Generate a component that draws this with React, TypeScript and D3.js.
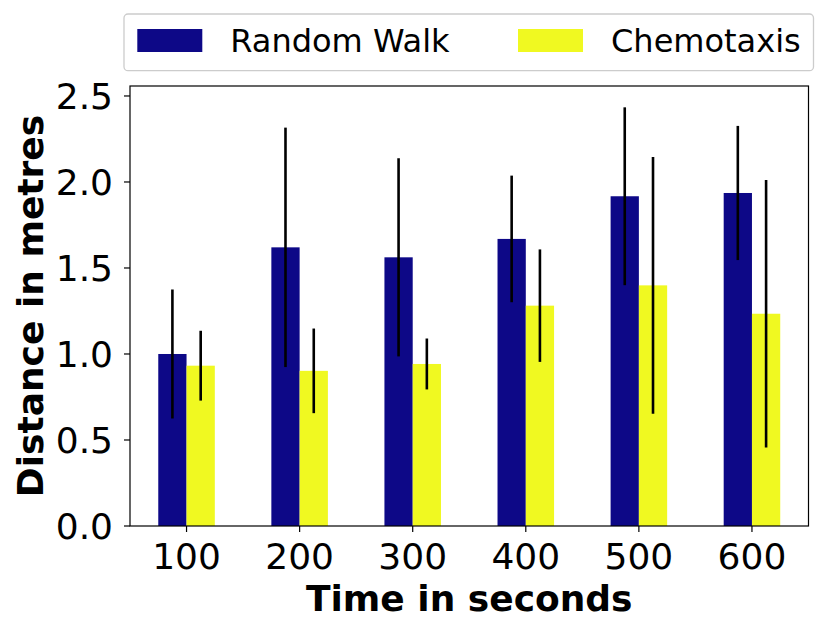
import * as d3 from 'd3'

const times = [100, 200, 300, 400, 500, 600]
const randomWalk = [1.0, 1.62, 1.562, 1.669, 1.917, 1.936]
const randomWalkErr = [0.375, 0.696, 0.576, 0.368, 0.517, 0.39]
const chemotaxis = [0.932, 0.902, 0.942, 1.281, 1.399, 1.234]
const chemotaxisErr = [0.203, 0.246, 0.148, 0.327, 0.746, 0.777]
const yTicks = [0, 0.5, 1.0, 1.5, 2.0, 2.5]
const seriesNames = ['Random Walk', 'Chemotaxis']
const colors = ['#0d0887', '#f0f921']

const W = 830
const H = 634
const left = 130
const right = 808.5
const top = 86
const bottom = 526
const font = 'DejaVu Sans, sans-serif'

const App = () => {
  const x = d3.scaleLinear().domain([-0.5, times.length - 0.5]).range([left, right])
  const y = d3.scaleLinear().domain([0, 2.558]).range([bottom, top])
  const bw = x(0.25) - x(0)
  const fmt = d3.format('.1f')

  const series = [
    { values: randomWalk, errs: randomWalkErr, offset: -0.25 },
    { values: chemotaxis, errs: chemotaxisErr, offset: 0 },
  ]

  return (
    <div style={{ position: 'absolute', left: 0, top: 0 }}>
      <svg width={W} height={H} style={{ display: 'block', background: '#fff' }}>
        {series.map((s, si) => (
          <g key={si}>
            {s.values.map((v, i) => (
              <rect
                key={i}
                x={x(i + s.offset)}
                y={y(v)}
                width={bw}
                height={y(0) - y(v)}
                fill={colors[si]}
              />
            ))}
          </g>
        ))}
        {series.map((s, si) => (
          <g key={'e' + si}>
            {s.values.map((v, i) => {
              const cx = x(i + s.offset + 0.125)
              return (
                <line
                  key={i}
                  x1={cx}
                  x2={cx}
                  y1={y(v + s.errs[i])}
                  y2={y(v - s.errs[i])}
                  stroke="#000"
                  strokeWidth={2.6}
                />
              )
            })}
          </g>
        ))}

        <rect x={left} y={top} width={right - left} height={bottom - top} fill="none" stroke="#000" strokeWidth={1.2} />

        {yTicks.map(t => (
          <g key={t} transform={`translate(0,${y(t)})`}>
            <line x1={left - 6} x2={left} stroke="#000" strokeWidth={1.2} />
            <text x={left - 17} dy="0.36em" textAnchor="end" fontFamily={font} fontSize={36}>
              {fmt(t)}
            </text>
          </g>
        ))}

        {times.map((t, i) => (
          <g key={t} transform={`translate(${x(i)},0)`}>
            <line y1={bottom} y2={bottom + 6} stroke="#000" strokeWidth={1.2} />
            <text y={569} textAnchor="middle" fontFamily={font} fontSize={36}>
              {t}
            </text>
          </g>
        ))}

        <text x={(left + right) / 2} y={611} textAnchor="middle" fontFamily={font} fontSize={36} fontWeight="bold">
          Time in seconds
        </text>
        <text
          transform={`translate(43,${(top + bottom) / 2}) rotate(-90)`}
          textAnchor="middle"
          fontFamily={font}
          fontSize={36}
          fontWeight="bold"
        >
          Distance in metres
        </text>

        <rect x={124} y={14} width={689.5} height={56.7} rx={4} fill="#fff" stroke="#cccccc" strokeWidth={1.3} />
        {seriesNames.map((name, i) => {
          const px = i === 0 ? 137.3 : 518
          return (
            <g key={name}>
              <rect x={px} y={29} width={65} height={23} fill={colors[i]} />
              <text x={px + 93} y={51.7} fontFamily={font} fontSize={32}>
                {name}
              </text>
            </g>
          )
        })}
      </svg>
    </div>
  )
}

export default App
